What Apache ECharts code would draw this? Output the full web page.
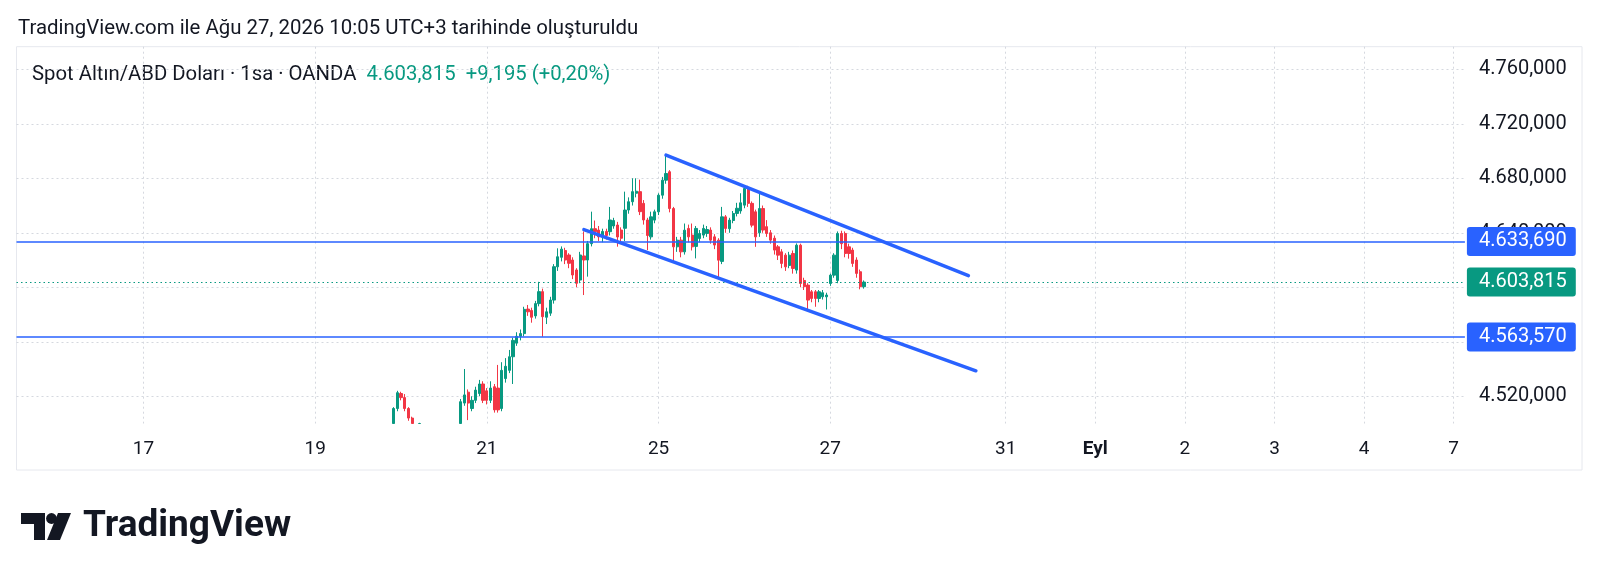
<!DOCTYPE html>
<html>
<head>
<meta charset="utf-8">
<script src="https://cdn.jsdelivr.net/npm/echarts@6/dist/echarts.min.js"></script>
<style>
html,body{margin:0;padding:0;background:#fff;}
#c{width:1600px;height:573px;}
</style>
</head>
<body>
<div id="c"></div>
<script>
// ---------- data ----------
const headerText = 'TradingView.com ile Ağu 27, 2026 10:05 UTC+3 tarihinde oluşturuldu';
const symbolText = 'Spot Altın/ABD Doları · 1sa · OANDA';
const quoteText = '4.603,815  +9,195 (+0,20%)';
const brandText = 'TradingView';

// trading sessions (date, first hour, last hour) on the time scale
const sessions = [
  ['2026-08-13', 13, 23], ['2026-08-14', 1, 23], ['2026-08-17', 1, 23], ['2026-08-18', 1, 23],
  ['2026-08-19', 1, 23], ['2026-08-20', 1, 23], ['2026-08-21', 1, 23], ['2026-08-24', 1, 23],
  ['2026-08-25', 1, 23], ['2026-08-26', 1, 23], ['2026-08-27', 1, 23],
  ['2026-08-28', 0, 23], ['2026-08-31', 0, 23], ['2026-09-01', 0, 23], ['2026-09-02', 0, 23],
  ['2026-09-03', 0, 23], ['2026-09-04', 0, 23], ['2026-09-07', 0, 3]
];
const xTickDates  = ['2026-08-17','2026-08-19','2026-08-21','2026-08-25','2026-08-27','2026-08-31','2026-09-01','2026-09-02','2026-09-03','2026-09-04','2026-09-07'];
const xTickLabels = ['17','19','21','25','27','31','Eyl','2','3','4','7'];
const yTicks = [4520, 4560, 4600, 4640, 4680, 4720, 4760];
const yMin = 4500, yMax = 4776.6;

const firstBar = '2026-08-19 22:00';
const opens = [
 4496,4511,4522,4519,4511,4504,4497,4490,4492,4486,4480,4484,4478,4482,4488,4485,4491,4489,
 4494,4515,4523,4511,4517,4522,4529,4524,4517,4527,4526,4511,4533,4539,4549,4559,4564,4566,
 4584,4583,4579,4588,4596.8,4578,4581,4590.6,4615,4622,4627,4623.7,4620,4612.7,4605.3,4623,
 4620,4632,4643,4642,4637,4641,4640.8,4645,4645.7,4642,4643.3,4656.7,4662.8,4669,4670.2,4661.6,
 4649.4,4637,4649.3,4655.4,4667.6,4678.6,4684.8,4657.8,4629.7,4634.6,4626,4643.2,4638.3,4630,
 4635.8,4638.3,4639.5,4642,4637,4634.6,4619,4651.7,4643,4649,4654.2,4656,4660.3,4672.5,4661.6,
 4655.4,4640,4657.8,4644.5,4640,4636,4629.7,4626,4623.6,4616,4624.8,4612.6,4630.9,4605,4601.6,
 4596.7,4596.7,4591.8,4593,4593,4602.8,4608.9,4605,4639.5,4639.5,4629.7,4627.3,4620,4611.4,4600.4
];
const highs = [
 4512,4524,4523.3,4521.6,4512,4505,4498,4500.5,4495,4490,4488,4487,4486,4491,4493,4495,4496,4497,
 4518,4540,4525,4520,4527,4532,4531,4526,4531,4529,4543,4545,4548,4554,4563,4567,4569,4585.7,
 4587,4585,4590,4604,4599,4585,4593,4617,4628.6,4630,4629,4625,4622,4614,4626,4641,
 4634,4655.5,4649,4645,4643,4643,4659,4651,4648,4644,4670.2,4666,4680,4680,4679,4664,
 4651,4655.5,4657,4669,4681,4697,4686,4659,4637,4637,4646.8,4646,4646.8,4645,
 4642,4646,4645,4644,4639,4636,4659,4653,4651,4656,4662,4669,4674,4674.5,4663,
 4657,4668.9,4660,4649.3,4642,4638,4631,4628,4625,4626,4627,4632.2,4632,4607,4603,
 4598,4598,4598,4598,4596,4610,4625,4641,4641.5,4641,4632,4629,4622,4613,4605
];
const lows = [
 4494,4509,4517,4509,4502,4494,4487,4486,4482,4476,4475,4473,4474,4479,4481,4482,4485,4486,
 4492,4513,4502.5,4509,4515,4520,4515,4514,4515,4508,4508,4509,4530,4537,4529,4557,4561,4564,
 4579,4574,4577,4586,4563.7,4573,4579,4588,4612,4619,4617,4614,4606,4600,4603,4594.3,
 4607.8,4630,4636,4634,4633,4635,4638,4643,4629.8,4633,4634,4654,4660,4666,4653,4646,
 4627.3,4635,4647,4653,4665,4676,4655,4618.7,4626,4622,4624,4633,4627,4621.2,
 4633,4636,4637,4632,4628,4606.5,4617,4640,4640,4647,4652,4654,4658,4659,4644,
 4629.7,4637,4640,4637,4632,4624,4620,4614,4612,4614,4610,4610,4600,4598,4583.7,
 4589,4585.7,4589,4591,4583.7,4601,4607,4603,4628,4622,4621,4615,4607,4598.5,4599
];
const closes = [
 4511,4522.6,4519,4511,4504,4497,4490,4492,4486,4480,4484,4478,4482,4488,4485,4491,4489,4494,
 4516,4521,4515,4517,4524.5,4529,4517,4517,4526,4510,4510,4539,4542,4549,4561,4564,4566,4583.8,
 4582,4578,4588,4596.8,4578.4,4582,4590.6,4615.1,4622.4,4628,4620,4617.6,4609,4602.9,4623.7,4620,
 4632,4643,4640.8,4637,4641,4638,4649.4,4649,4636.9,4636,4656.7,4662.8,4670.2,4670.5,4655.5,4649.4,
 4638,4651.7,4655.4,4667.6,4678.6,4683.5,4657.8,4629.7,4634.6,4626,4641.9,4637,4629.7,4643.2,
 4639.5,4643.2,4642.4,4634.6,4631,4619.9,4651.7,4643.2,4649.3,4654.2,4658,4662,4672.5,4661.6,4645.6,
 4637,4657.8,4642,4639.5,4634.6,4627.3,4623.6,4617.5,4615,4623.6,4613.8,4630.9,4602.8,4600.4,4590.6,
 4591.8,4591.8,4596.7,4596,4594.3,4608.9,4623.6,4639.5,4632,4624.8,4624.8,4617.5,4610.2,4600.4,4603.815
];

// drawn levels and trend lines (time, price)
const resistanceLevel = 4633.690;
const supportLevel = 4563.570;
const lastPrice = 4603.815;
const upperTrend = [['2026-08-25 03:00', 4697.0], ['2026-08-28 14:00', 4608.5]];
const lowerTrend = [['2026-08-24 04:00', 4642.3], ['2026-08-28 16:00', 4538.7]];

// ---------- build ----------
const pad = n => (n < 10 ? '0' : '') + n;
const cats = [];
sessions.forEach(([d, h0, h1]) => { for (let h = h0; h <= h1; h++) cats.push(d + ' ' + pad(h) + ':00'); });
const tickMap = {};
xTickDates.forEach((d, k) => { const idx = cats.findIndex(c => c.startsWith(d)); tickMap[idx] = xTickLabels[k]; });

// candles are cut at the bottom of the price pane (like the visible pane in the source)
const startIdx = cats.indexOf(firstBar);
const candleData = cats.map(() => '-');
for (let k = 0; k < opens.length; k++) {
  if (highs[k] < yMin) continue;
  const cut = v => Math.max(v, yMin);
  candleData[startIdx + k] = {
    value: [cut(opens[k]), cut(closes[k]), cut(lows[k]), highs[k]],
    itemStyle: closes[k] >= opens[k]
      ? { color: '#089981', borderColor: '#089981', color0: '#089981', borderColor0: '#089981' }
      : { color: '#f23645', borderColor: '#f23645', color0: '#f23645', borderColor0: '#f23645' }
  };
}

function trNum(v) {
  const s = v.toFixed(3);
  const parts = s.split('.');
  return parts[0].replace(/\B(?=(\d{3})+(?!\d))/g, '.') + ',' + parts[1];
}

const GREEN = '#089981', RED = '#f23645', BLUE = '#2962ff', TXT = '#131722';
const FONT = 'Roboto, sans-serif';

const priceLabel = (bg, value) => ({
  show: true, position: 'end', distance: 2,
  formatter: () => trNum(value),
  backgroundColor: bg, color: '#fff', fontSize: 20, fontFamily: FONT,
  padding: [4, 9, 4, 12], borderRadius: 3, lineHeight: 21
});

const chart = echarts.init(document.getElementById('c'), null, { renderer: 'canvas' });
chart.setOption({
  animation: false,
  backgroundColor: '#ffffff',
  textStyle: { fontFamily: FONT },
  grid: { left: 16.5, right: 135.1, top: 46.7, bottom: 149.5, containLabel: false },
  xAxis: {
    type: 'category', data: cats, boundaryGap: false,
    axisLine: { show: false }, axisTick: { show: false },
    axisLabel: {
      interval: (i) => tickMap[i] !== undefined,
      formatter: (v, i) => tickMap[i] === 'Eyl' ? '{b|Eyl}' : tickMap[i],
      margin: 16, fontSize: 19, color: TXT, fontFamily: FONT, lineHeight: 19,
      rich: { b: { fontWeight: 'bold', fontSize: 19, color: TXT, fontFamily: FONT } }
    },
    splitLine: { show: true, interval: (i) => tickMap[i] !== undefined, lineStyle: { type: [2, 3], color: '#d5d8df', width: 1 } }
  },
  yAxis: {
    type: 'value', position: 'right', min: yMin, max: yMax,
    axisLine: { show: false },
    axisTick: { show: false, customValues: yTicks },
    axisLabel: { customValues: yTicks, formatter: v => trNum(v), color: TXT, fontSize: 20, fontFamily: FONT, margin: 14, align: 'left', padding: [0, 0, 5, 0] },
    splitLine: { show: true, lineStyle: { type: [2, 3], color: '#d5d8df', width: 1 } }
  },
  series: [{
    type: 'candlestick', data: candleData, barWidth: '74%', z: 3,
    itemStyle: { color: GREEN, color0: RED, borderColor: GREEN, borderColor0: RED, borderWidth: 1 },
    markLine: {
      silent: true, symbol: ['none', 'none'], animation: false, z: 5, precision: 3,
      data: [
        { yAxis: resistanceLevel, lineStyle: { color: BLUE, width: 1.5, type: 'solid' }, label: priceLabel(BLUE, resistanceLevel) },
        { yAxis: supportLevel, lineStyle: { color: BLUE, width: 1.5, type: 'solid' }, label: priceLabel(BLUE, supportLevel) },
        { yAxis: lastPrice, lineStyle: { color: GREEN, width: 1, type: [1.5, 3] }, label: priceLabel(GREEN, lastPrice) },
        [ { coord: upperTrend[0], lineStyle: { color: BLUE, width: 3.5, type: 'solid', cap: 'round' }, label: { show: false } }, { coord: upperTrend[1] } ],
        [ { coord: lowerTrend[0], lineStyle: { color: BLUE, width: 3.5, type: 'solid', cap: 'round' }, label: { show: false } }, { coord: lowerTrend[1] } ]
      ]
    }
  }],
  graphic: [
    { type: 'rect', z: -1, silent: true, shape: { x: 16.5, y: 46.7, width: 1565.5, height: 423.3 }, style: { fill: 'none', stroke: '#e6e8ee', lineWidth: 1 } },
    { type: 'text', x: 18, y: 28.5, style: { text: headerText, fontSize: 20.4, fontFamily: FONT, fill: TXT, verticalAlign: 'middle' } },
    { type: 'text', x: 32, y: 74.5, style: {
        text: '{a|' + symbolText + '}{g|  ' + quoteText + '}', verticalAlign: 'middle',
        rich: { a: { fontSize: 20.3, fontFamily: FONT, fill: TXT, color: TXT }, g: { fontSize: 20.3, fontFamily: FONT, fill: GREEN, color: GREEN } } } },
    { type: 'polygon', shape: { points: [[21,513],[45,513],[45,540],[34,540],[34,524],[21,524]] }, style: { fill: TXT } },
    { type: 'circle', shape: { cx: 51.5, cy: 518.5, r: 5.4 }, style: { fill: TXT } },
    { type: 'polygon', shape: { points: [[58,513],[71,513],[60,540],[47,540]] }, style: { fill: TXT } },
    { type: 'text', x: 83, y: 527, style: { text: brandText, fontSize: 37, fontWeight: 'bold', fontFamily: FONT, fill: TXT, verticalAlign: 'middle' } }
  ]
});
</script>
</body>
</html>
